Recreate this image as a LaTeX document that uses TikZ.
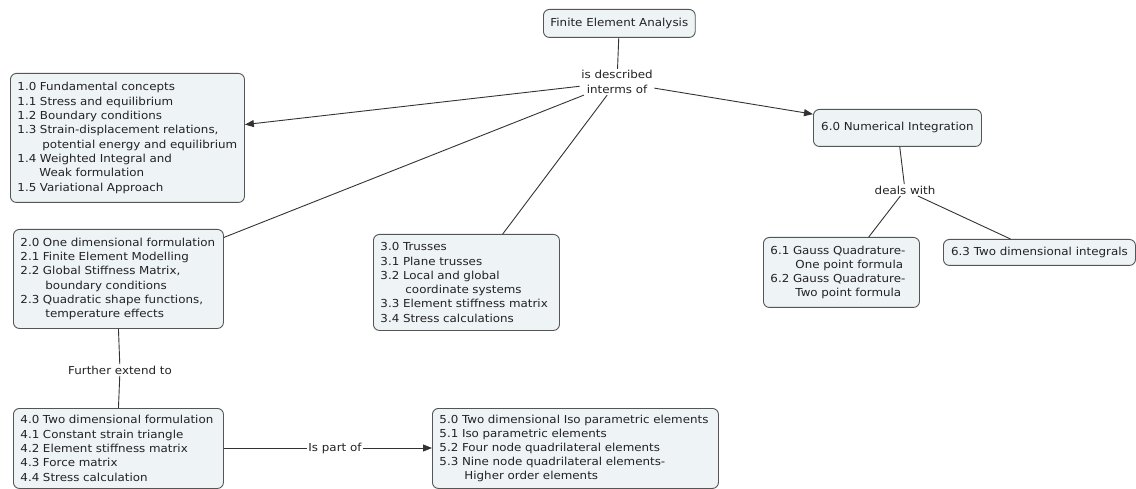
\documentclass[tikz,border=0pt]{standalone}
\usepackage{fontspec}
\setmainfont{DejaVu Sans}[FakeStretch=1.08]
\usetikzlibrary{arrows.meta}
\definecolor{boxfill}{HTML}{EEF3F6}
\definecolor{boxline}{HTML}{555555}
\definecolor{linkc}{HTML}{333333}
\definecolor{txt}{HTML}{222222}
\newcommand{\ind}{\hspace*{25pt}}
\tikzset{
  cbox/.style={draw=boxline, fill=boxfill, line width=0.9pt, rounded corners=6pt,
    anchor=north west, align=left, inner xsep=7pt, inner ysep=2pt, text=txt,
    font=\fontsize{11}{14.3}\selectfont},
  lab/.style={text=txt, align=center, inner sep=1.5pt, font=\fontsize{11}{14.3}\selectfont},
  link/.style={draw=linkc, line width=0.9pt},
  arr/.style={link, -{Triangle[length=9pt,width=7pt]}}
}
\begin{document}
\begin{tikzpicture}[x=1pt,y=-1pt]
\useasboundingbox (0,0) rectangle (1136,489);
% boxes
\node[cbox, minimum width=150pt, minimum height=28pt, align=center] (fea) at (543,9) {Finite Element Analysis};
\node[cbox, text width=220pt, minimum height=129pt] (b1) at (10,73) {1.0 Fundamental concepts\\
1.1 Stress and equilibrium\\
1.2 Boundary conditions\\
1.3 Strain-displacement relations,\\
\ind potential energy and equilibrium\\
1.4 Weighted Integral and\\
\hspace*{22pt}Weak formulation\\
1.5 Variational Approach};
\node[cbox, text width=196pt, minimum height=99pt] (b2) at (13,229) {2.0 One dimensional formulation\\
2.1 Finite Element Modelling\\
2.2 Global Stiffness Matrix,\\
\ind boundary conditions\\
2.3 Quadratic shape functions,\\
\ind temperature effects};
\node[cbox, text width=172pt, minimum height=96pt] (b3) at (373,234) {3.0 Trusses\\
3.1 Plane trusses\\
3.2 Local and global\\
\ind coordinate systems\\
3.3 Element stiffness matrix\\
3.4 Stress calculations};
\node[cbox, text width=196pt, minimum height=80pt] (b4) at (13,408) {4.0 Two dimensional formulation\\
4.1 Constant strain triangle\\
4.2 Element stiffness matrix\\
4.3 Force matrix\\
4.4 Stress calculation};
\node[cbox, text width=272pt, minimum height=80pt, font=\fontsize{11}{13.8}\selectfont] (b5) at (432,408) {5.0 Two dimensional Iso parametric elements\\
5.1 Iso parametric elements\\
5.2 Four node quadrilateral elements\\
5.3 Nine node quadrilateral elements-\\
\ind Higher order elements};
\node[cbox, minimum width=168pt, minimum height=37pt, align=center] (b60) at (813,109) {6.0 Numerical Integration};
\node[cbox, text width=142pt, minimum height=70pt] (b61) at (763,237) {6.1 Gauss Quadrature-\\
\ind One point formula\\
6.2 Gauss Quadrature-\\
\ind Two point formula};
\node[cbox, minimum width=192pt, minimum height=26pt, align=center] (b63) at (943,239) {6.3 Two dimensional integrals};
% labels
\node[lab] (l1) at (617,82) {is described\\interms of};
\node[lab] (l2) at (905,190) {deals with};
\node[lab] (l3) at (120,370) {Further extend to};
\node[lab] (l4) at (335,448) {Is part of};
% connectors
\draw[link] (fea) -- (l1);
\draw[arr] (l1) -- (b1);
\draw[link] (l1) -- (b2);
\draw[link] (l1) -- (b3);
\draw[arr] (l1) -- (b60);
\draw[link] (b60) -- (l2);
\draw[link] (l2) -- (b61);
\draw[link] (l2) -- (b63);
\draw[link] (b2.south) -- (l3);
\draw[link] (l3) -- (b4.north);
\draw[link] (b4.east |- l4) -- (l4);
\draw[arr] (l4) -- (b5.west |- l4);
\end{tikzpicture}
\end{document}
